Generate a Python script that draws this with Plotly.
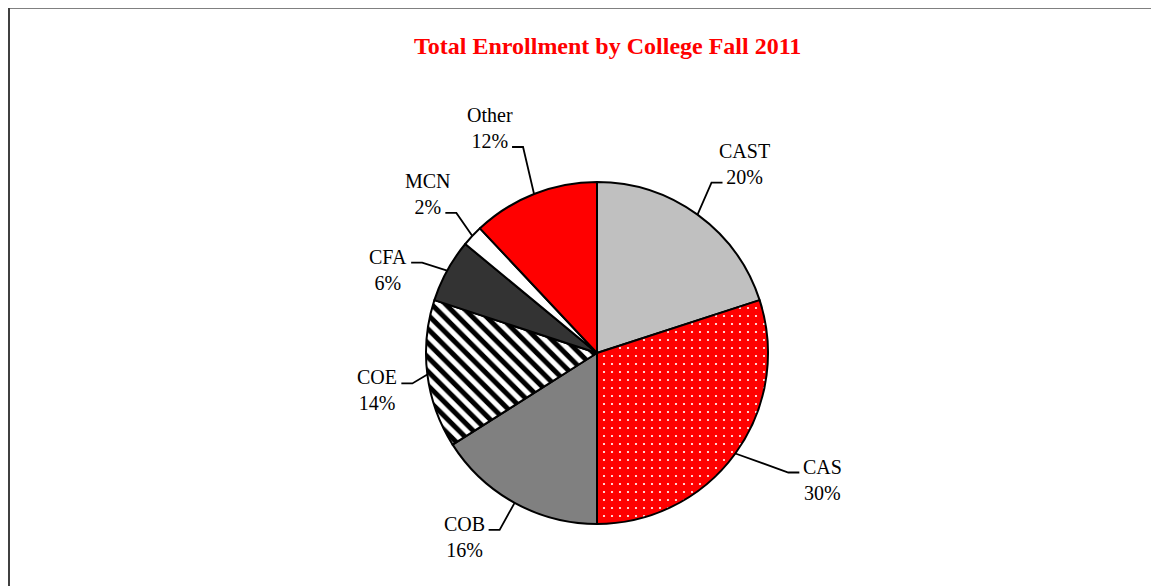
import math
import plotly.graph_objects as go

# the page body keeps its default 8px margin, so the figure sits at (8, 8)
OFF = 8
W, H = 1159 - OFF, 586 - OFF

# data
colleges = ["CAST", "CAS", "COB", "COE", "CFA", "MCN", "Other"]
shares = [20, 30, 16, 14, 6, 2, 12]

# styling per slice
slice_colors = ["#C0C0C0", "#FF0000", "#808080", "#FFFFFF", "#333333", "#FFFFFF", "#FF0000"]
pattern_shapes = ["", ".", "", "\\", "", "", ""]
pattern_fg = ["#000000", "#FFFFFF", "#000000", "#000000", "#000000", "#000000", "#000000"]
pattern_size = [8, 8, 8, 10, 8, 8, 8]
pattern_solidity = [0.3, 0.06, 0.3, 0.5, 0.3, 0.3, 0.3]

# pie placement in page pixels; elbow of each leader line relative to the
# slice's mid-arc point (label placement, layout only)
CX, CY, R = 597, 353, 171
elbow_offset = {"CAST": (14, -32), "CAS": (53, 19), "COB": (-15, 27),
                "COE": (-15, 9), "CFA": (-25, -8), "MCN": (-16, -23),
                "Other": (-11, -47)}
SEG, GAP, LINE_H = 11, 4, 26

FONT = "Liberation Serif, Times New Roman, serif"
FONT_SIZE = 20
# Times advance widths (per 1000 em) used to centre the two label lines
char_w = {"C": 667, "A": 722, "S": 556, "T": 611, "O": 722, "B": 667,
          "E": 611, "F": 556, "M": 889, "N": 722, "t": 278, "h": 500,
          "e": 444, "r": 333, "%": 833}


def text_width(s):
    return sum(char_w.get(c, 500) for c in s) * FONT_SIZE / 1000


def px(x):
    return (x - OFF) / W


def py(y):
    return 1 - (y - OFF) / H


fig = go.Figure()
fig.add_trace(go.Pie(
    labels=colleges,
    values=shares,
    sort=False,
    direction="clockwise",
    rotation=0,
    textinfo="none",
    hoverinfo="label+percent",
    showlegend=False,
    domain=dict(x=[px(CX - R), px(CX + R)], y=[py(CY + R), py(CY - R)]),
    marker=dict(
        colors=slice_colors,
        line=dict(color="#000000", width=2),
        pattern=dict(shape=pattern_shapes, fgcolor=pattern_fg,
                     bgcolor=slice_colors,
                     size=pattern_size, solidity=pattern_solidity),
    ),
))

# labels with elbow leader lines, starting at each slice's mid angle
total = sum(shares)
cum = 0
shapes = []
annotations = []
for name, v in zip(colleges, shares):
    mid = math.radians(360 * (cum + v / 2) / total)
    cum += v
    p = (CX + R * math.sin(mid), CY - R * math.cos(mid))
    ox, oy = elbow_offset[name]
    e = (p[0] + ox, p[1] + oy)
    side = 1 if ox >= 0 else -1
    h = (e[0] + SEG * side, e[1])
    shapes.append(dict(
        type="path", xref="paper", yref="paper",
        path=f"M {px(p[0])},{py(p[1])} L {px(e[0])},{py(e[1])} L {px(h[0])},{py(h[1])}",
        line=dict(color="#000000", width=1.8),
    ))
    pct = f"{v / total * 100:.0f}%"
    # upper labels hook the leader onto the percent line, others onto the name
    upper = math.cos(mid) > 0.6
    near = pct if upper else name
    near_cy = h[1] - 6
    block_cy = near_cy - LINE_H / 2 if upper else near_cy + LINE_H / 2
    block_cx = h[0] + side * (GAP + text_width(near) / 2)
    annotations.append(dict(
        text=f"{name}<br>{pct}",
        x=px(block_cx), y=py(block_cy),
        xref="paper", yref="paper",
        xanchor="center", yanchor="middle",
        align="center", showarrow=False, borderpad=0,
        font=dict(family=FONT, size=FONT_SIZE, color="#000000"),
    ))

annotations.append(dict(
    text="<b>Total Enrollment by College Fall 2011</b>",
    x=px(607.5), y=py(46), xref="paper", yref="paper",
    xanchor="center", yanchor="middle", showarrow=False,
    font=dict(family=FONT, size=24, color="#FF0000"),
))

# chart frame (top and left edges visible)
shapes.append(dict(type="line", xref="paper", yref="paper",
                   x0=0, x1=1, y0=py(8), y1=py(8),
                   line=dict(color="#808080", width=2)))
shapes.append(dict(type="line", xref="paper", yref="paper",
                   x0=px(9), x1=px(9), y0=py(8), y1=0,
                   line=dict(color="#404040", width=2)))

fig.update_layout(
    width=W, height=H,
    margin=dict(l=0, r=0, t=0, b=0),
    paper_bgcolor="#FFFFFF",
    plot_bgcolor="#FFFFFF",
    shapes=shapes,
    annotations=annotations,
)

fig.write_html("out.html")
